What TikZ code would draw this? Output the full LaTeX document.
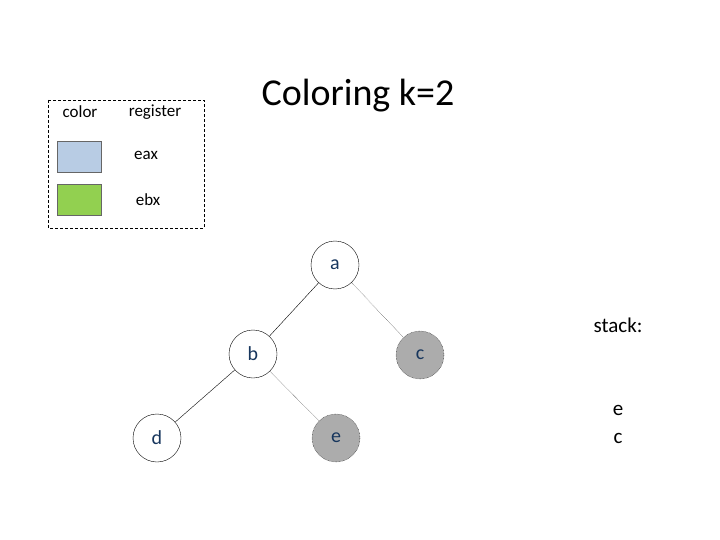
\documentclass[tikz,border=0pt]{standalone}
\usepackage{fontspec}
\setmainfont{Carlito}
\usetikzlibrary{positioning}
\definecolor{txtblue}{HTML}{17365D}
\tikzset{
    % tree nodes
    vert/.style={
           circle,
           draw=black,
           minimum size=48pt,
           inner sep=0pt,
           font=\fontsize{20}{24}\selectfont,
           text=txtblue},
    spilled/.style={
           vert,
           fill=gray!65,
           densely dotted},
    % legend swatches
    swatch/.style={
           rectangle,
           draw=black!60,
           minimum width=44pt,
           minimum height=31pt}
}
\begin{document}
\begin{tikzpicture}[x=1pt,y=-1pt]
\useasboundingbox (0,0) rectangle (720,540);
% Legend
\draw[densely dashed] (48,100) rectangle (204,228);
\node[font=\fontsize{17}{20}\selectfont] (colh) at (80,112) {color};
\node[font=\fontsize{17}{20}\selectfont] (regh) at (155,112) {register};
\node[swatch, fill={rgb,255:red,184;green,204;blue,228}] (s1) at (79,157) {};
\node[swatch, fill={rgb,255:red,146;green,208;blue,80}] (s2) at (79,200) {};
\node[font=\fontsize{17}{20}\selectfont] (r1) at (146,155) {eax};
\node[font=\fontsize{17}{20}\selectfont] (r2) at (148,200) {ebx};
% Title
\node[font=\fontsize{38}{44}\selectfont] (title) at (358,96) {Coloring k=2};
% Tree
\node[vert] (a) at (335,265) {a};
\node[vert] (b) at (253,354) {b};
\node[spilled] (c) at (420,355) {c};
\node[vert] (d) at (157,438) {d};
\node[spilled] (e) at (336,438) {e};
\draw (a) -- (b);
\draw[densely dotted] (a) -- (c);
\draw (b) -- (d);
\draw[densely dotted] (b) -- (e);
% Stack
\node[font=\fontsize{21}{25}\selectfont] (stk) at (618,325) {stack:};
\node[font=\fontsize{21}{25}\selectfont] (st1) at (618,410) {e};
\node[font=\fontsize{21}{25}\selectfont] (st2) at (618,438) {c};
\end{tikzpicture}
\end{document}
